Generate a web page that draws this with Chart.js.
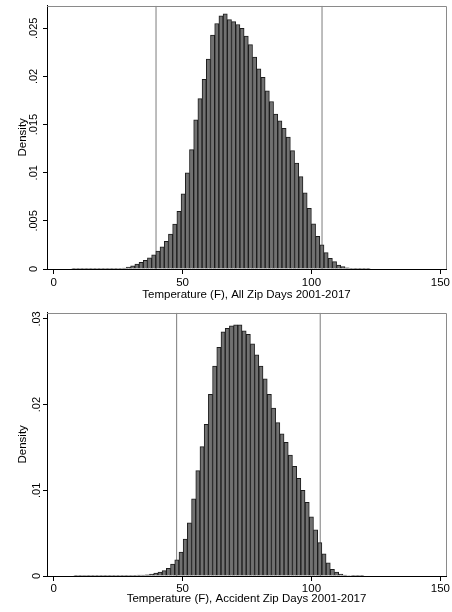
<!DOCTYPE html>
<html><head><meta charset="utf-8">
<script src="https://cdn.jsdelivr.net/npm/chart.js@4.4.0/dist/chart.umd.min.js"></script>
<style>
html,body{margin:0;padding:0;background:#fff;}
.wrap{position:absolute;left:0;width:452px;height:306px;}
canvas{display:block;}
</style></head><body>
<div class="wrap" style="top:0"><canvas id="c1" width="452" height="306"></canvas></div>
<div class="wrap" style="top:306px"><canvas id="c2" width="452" height="306"></canvas></div>
<script>
// ---- data ----
const xTicks = [0, 50, 100, 150];

const topCenters = [7.82,9.45,11.08,12.71,14.34,15.98,17.61,19.24,20.87,22.50,24.13,25.76,27.39,29.02,30.65,32.29,33.92,35.55,37.18,38.81,40.44,42.07,43.70,45.33,46.96,48.60,50.23,51.86,53.49,55.12,56.75,58.38,60.01,61.64,63.27,64.91,66.54,68.17,69.80,71.43,73.06,74.69,76.32,77.95,79.58,81.22,82.85,84.48,86.11,87.74,89.37,91.00,92.63,94.26,95.89,97.53,99.16,100.79,102.42,104.05,105.68,107.31,108.94,110.57,112.20,113.84,115.47,117.10,118.73,120.36,121.99];
const topDensity = [0.00002,0.00002,0.00002,0.00002,0.00002,0.00002,0.00002,0.00002,0.00002,0.00003,0.00004,0.00006,0.0001,0.0002,0.00032,0.0005,0.0007,0.0009,0.00117,0.00148,0.00187,0.00231,0.00287,0.00363,0.00467,0.006,0.0078,0.0100,0.0124,0.0155,0.0177,0.0197,0.0218,0.0243,0.0255,0.0263,0.0265,0.0259,0.0257,0.0254,0.0250,0.0242,0.0233,0.0220,0.0208,0.0199,0.0185,0.0174,0.0161,0.0154,0.0146,0.0137,0.0123,0.0110,0.0096,0.0079,0.0063,0.0047,0.0034,0.0025,0.0017,0.0011,0.00076,0.00041,0.00024,0.00013,0.00006,0.00004,0.00003,0.00002,0.00002];
const topCutoffs = [39.7, 104.1];
const topYTicks = [0, 0.005, 0.01, 0.015, 0.02, 0.025];
const topYLabels = ["0", ".005", ".01", ".015", ".02", ".025"];
const topTitle = "Temperature (F), All Zip Days 2001-2017";

const botCenters = [8.63,10.26,11.89,13.52,15.15,16.79,18.42,20.05,21.68,23.31,24.94,26.57,28.20,29.83,31.46,33.10,34.73,36.36,37.99,39.62,41.25,42.88,44.51,46.14,47.77,49.41,51.04,52.67,54.30,55.93,57.56,59.19,60.82,62.45,64.08,65.72,67.35,68.98,70.61,72.24,73.87,75.50,77.13,78.76,80.39,82.03,83.66,85.29,86.92,88.55,90.18,91.81,93.44,95.07,96.70,98.34,99.97,101.60,103.23,104.86,106.49,108.12,109.75,111.38,113.01,114.65,116.28,117.91,119.54];
const botDensity = [0.00008,0.00008,0.00001,0.00003,0.00003,0.00003,0.00003,0.00003,0.00003,0.00003,0.00003,0.00003,0.00004,0.00005,0.00007,0.0001,0.00012,0.00015,0.00023,0.00035,0.00047,0.00062,0.0009,0.0014,0.0019,0.0028,0.0043,0.0062,0.0090,0.0123,0.0151,0.0177,0.0212,0.0245,0.0267,0.0285,0.0289,0.0292,0.0293,0.0293,0.0286,0.0282,0.0271,0.0258,0.0245,0.0230,0.0212,0.0196,0.0179,0.0166,0.0156,0.0141,0.0128,0.0114,0.0100,0.0086,0.0069,0.0054,0.0039,0.0026,0.00155,0.00078,0.00047,0.00023,0.00012,0.00006,0.00004,0.00003,0.00002];
const botCutoffs = [47.7, 103.4];
const botYTicks = [0, 0.01, 0.02, 0.03];
const botYLabels = ["0", ".01", ".02", ".03"];
const botTitle = "Temperature (F), Accident Zip Days 2001-2017";

// ---- drawing ----
const FONT = "'Liberation Sans', Arial, Helvetica, sans-serif";

const framePlugin = {
  id: 'frame',
  afterDatasetsDraw(chart) {
    const {ctx, chartArea: a} = chart;
    ctx.save();
    ctx.strokeStyle = '#8a8a8a';
    ctx.lineWidth = 1;
    ctx.beginPath();
    ctx.moveTo(a.left, Math.round(a.top) + 0.5);
    ctx.lineTo(Math.round(a.right) + 0.5, Math.round(a.top) + 0.5);
    ctx.lineTo(Math.round(a.right) + 0.5, a.bottom);
    ctx.stroke();
    ctx.restore();
  }
};

function makeChart(id, centers, values, cutoffs, yMax, yTicks, yLabels, title, cfg) {
  const datasets = [{
    type: 'bar',
    data: centers.map((c, i) => ({x: c, y: values[i]})),
    backgroundColor: '#717171',
    borderColor: '#1c1c1c',
    borderWidth: 1,
    borderSkipped: 'start',
    barPercentage: 1,
    categoryPercentage: 1,
    grouped: false,
    order: 0
  }];
  cutoffs.forEach(c => datasets.push({
    type: 'line',
    data: [{x: c, y: 0}, {x: c, y: yMax}],
    borderColor: '#7c7c7c',
    borderWidth: 1,
    pointRadius: 0,
    fill: false,
    order: 1
  }));
  return new Chart(document.getElementById(id), {
    type: 'bar',
    data: {datasets},
    plugins: [framePlugin],
    options: {
      responsive: false,
      animation: false,
      events: [],
      layout: {padding: {top: cfg.top, right: 6, left: 0, bottom: 0}},
      plugins: {legend: {display: false}, tooltip: {enabled: false}},
      scales: {
        x: {
          type: 'linear', min: -2.6, max: 152.2, offset: false,
          afterBuildTicks: s => { s.ticks = xTicks.map(v => ({value: v})); },
          afterFit: s => { s.height = cfg.xH; s.paddingLeft = 0; s.paddingRight = 0; },
          ticks: {color: '#000', font: {family: FONT, size: 11.5}, padding: cfg.xTickPad, maxRotation: 0, minRotation: 0, autoSkip: false},
          grid: {drawOnChartArea: false, drawTicks: true, tickLength: 5, tickColor: '#000', offset: false},
          border: {display: true, color: '#000', width: 1},
          title: {display: true, text: title, color: '#000', font: {family: FONT, size: 11.5}, padding: {top: 0, bottom: cfg.xTitlePad}}
        },
        y: {
          min: 0, max: yMax,
          afterBuildTicks: s => { s.ticks = yTicks.map(v => ({value: v})); },
          afterFit: s => { s.width = 47; s.paddingTop = 0; s.paddingBottom = 0; },
          ticks: {color: '#000', font: {family: FONT, size: 11}, minRotation: 90, maxRotation: 90, crossAlign: 'center', padding: -1.5,
                  callback: (v, i) => yLabels[i]},
          grid: {drawOnChartArea: false, drawTicks: true, tickLength: 4, tickColor: '#000'},
          border: {display: true, color: '#000', width: 1},
          title: {display: true, text: 'Density', color: '#000', font: {family: FONT, size: 11.5}, padding: {top: 15.6, bottom: 0}}
        }
      }
    }
  });
}

makeChart('c1', topCenters, topDensity, topCutoffs, 0.02735, topYTicks, topYLabels, topTitle,
  {top: 5.7, xH: 37, xTickPad: 2, xTitlePad: 4});
makeChart('c2', botCenters, botDensity, botCutoffs, 0.03073, botYTicks, botYLabels, botTitle,
  {top: 6.7, xH: 36, xTickPad: 1, xTitlePad: 6});
</script>
</body></html>
